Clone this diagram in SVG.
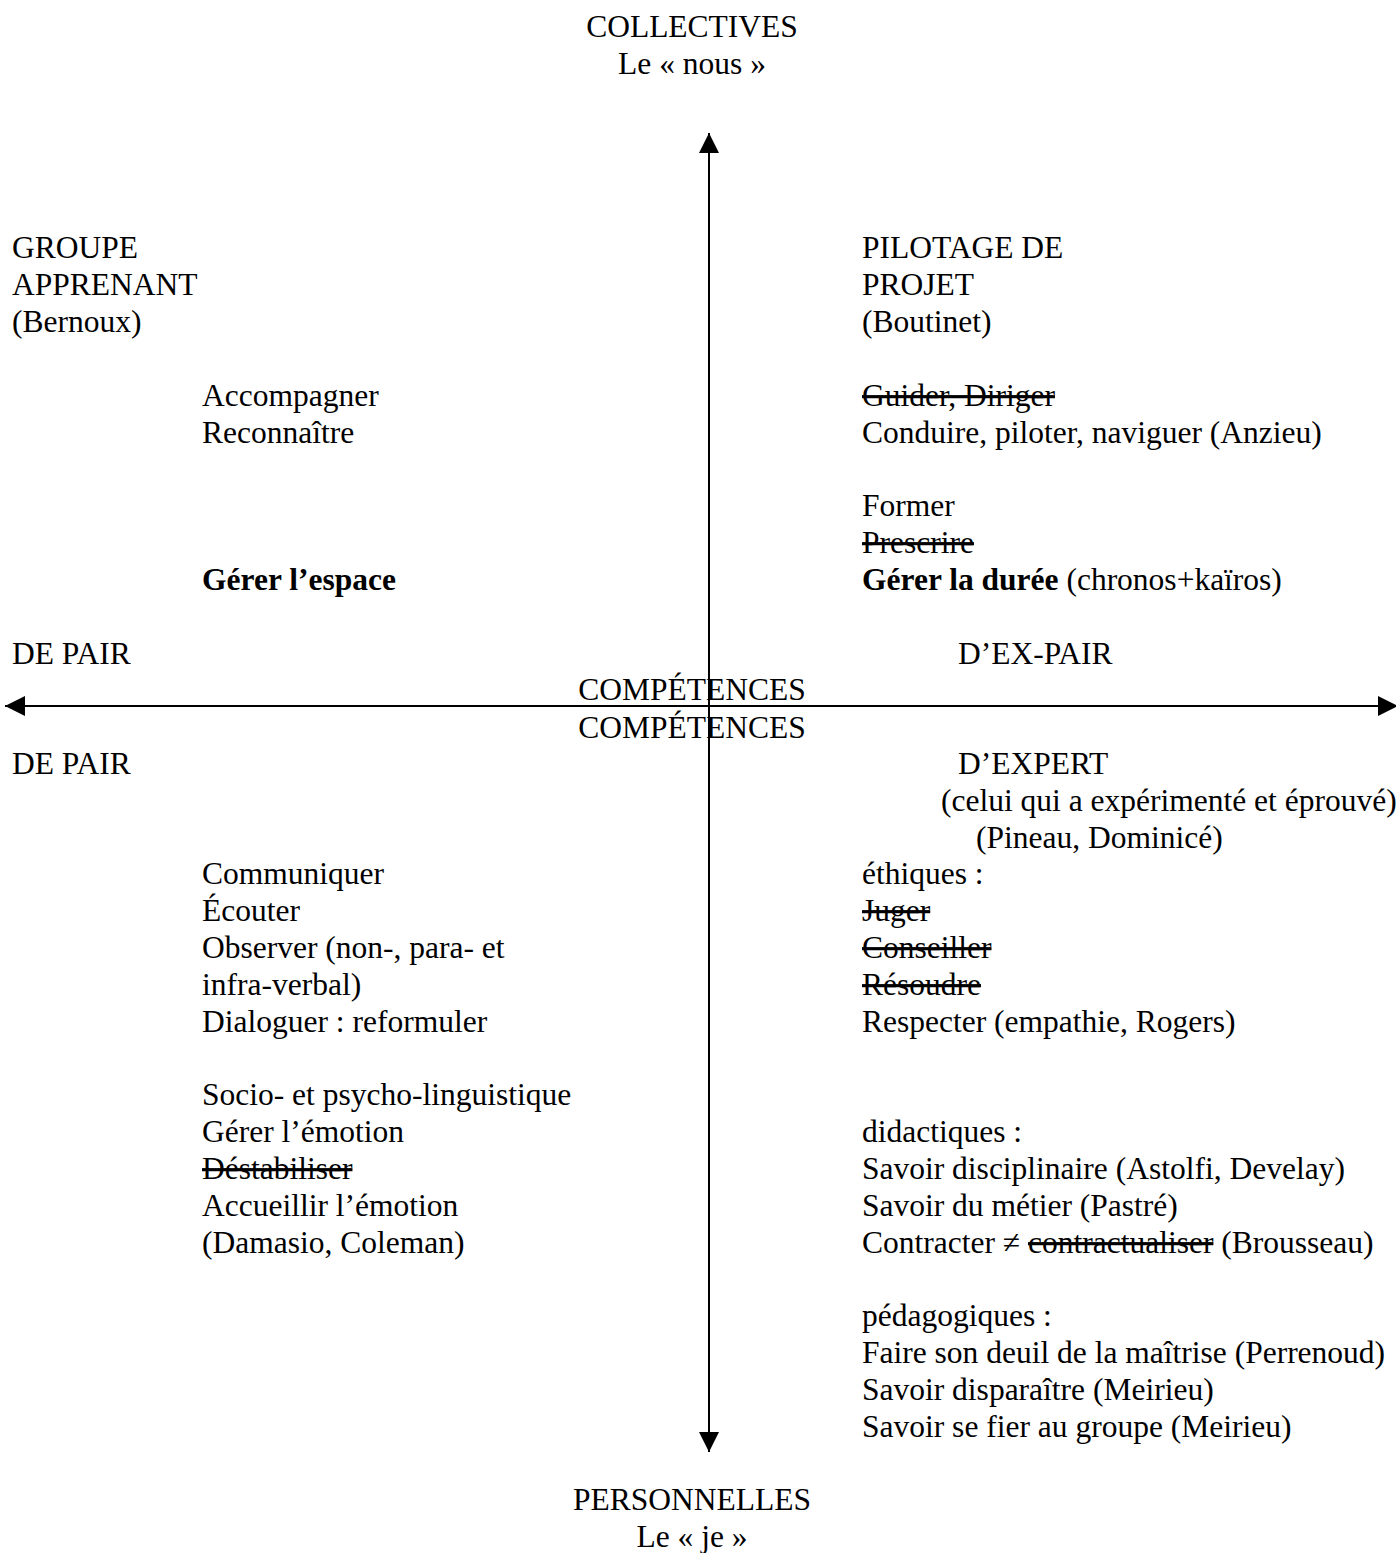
<svg xmlns="http://www.w3.org/2000/svg" width="1396" height="1553" viewBox="0 0 1396 1553">
<defs>
<style>
text{font-family:"Liberation Serif","Times New Roman",serif;font-size:31.5px;fill:#000}
.c{text-anchor:middle}
.b{font-weight:bold}
.s{text-decoration:line-through}
.ax{stroke:#000;fill:none}
</style>
<marker id="ah" viewBox="0 0 20 20" refX="20" refY="10" markerWidth="20" markerHeight="20" markerUnits="userSpaceOnUse" orient="auto">
<path d="M0,0 L20,10 L0,20 Z" fill="#000"/>
</marker>
</defs>
<rect width="1396" height="1553" fill="#fff"/>
<g id="connectors">
<line class="ax" x1="709" y1="1433" x2="709" y2="133" stroke-width="2" marker-end="url(#ah)"/>
<line class="ax" x1="709" y1="153" x2="709" y2="1452" stroke-width="2" marker-end="url(#ah)"/>
<line class="ax" x1="1380" y1="706" x2="5" y2="706" stroke-width="2" marker-end="url(#ah)"/>
<line class="ax" x1="20" y1="706" x2="1398" y2="706" stroke-width="2" marker-end="url(#ah)"/>
</g>
<g id="top">
<text class="c" x="692" y="37">COLLECTIVES</text>
<text class="c" x="692" y="74">Le « nous »</text>
</g>
<g id="bottom">
<text class="c" x="692" y="1510">PERSONNELLES</text>
<text class="c" x="692" y="1547">Le « je »</text>
</g>
<g id="center">
<text class="c" x="692" y="700">COMPÉTENCES</text>
<text class="c" x="692" y="738">COMPÉTENCES</text>
</g>
<g id="axis-labels">
<text x="12" y="664">DE PAIR</text>
<text x="958" y="664">D’EX-PAIR</text>
<text x="12" y="774">DE PAIR</text>
<text x="958" y="774">D’EXPERT</text>
</g>
<g id="q-top-left">
<text x="12" y="258">GROUPE</text>
<text x="12" y="295">APPRENANT</text>
<text x="12" y="332">(Bernoux)</text>
<text x="202" y="406">Accompagner</text>
<text x="202" y="443">Reconnaître</text>
<text x="202" y="590" class="b">Gérer l’espace</text>
</g>
<g id="q-top-right">
<text x="862" y="258">PILOTAGE DE</text>
<text x="862" y="295">PROJET</text>
<text x="862" y="332">(Boutinet)</text>
<text x="862" y="406" class="s">Guider, Diriger</text>
<text x="862" y="443">Conduire, piloter, naviguer (Anzieu)</text>
<text x="862" y="516">Former</text>
<text x="862" y="553" class="s">Prescrire</text>
<text x="862" y="590"><tspan class="b">Gérer la durée</tspan> (chronos+kaïros)</text>
</g>
<g id="q-bottom-left">
<text x="202" y="884">Communiquer</text>
<text x="202" y="921">Écouter</text>
<text x="202" y="958">Observer (non-, para- et</text>
<text x="202" y="995">infra-verbal)</text>
<text x="202" y="1032">Dialoguer : reformuler</text>
<text x="202" y="1105">Socio- et psycho-linguistique</text>
<text x="202" y="1142">Gérer l’émotion</text>
<text x="202" y="1179" class="s">Déstabiliser</text>
<text x="202" y="1216">Accueillir l’émotion</text>
<text x="202" y="1253">(Damasio, Coleman)</text>
</g>
<g id="q-bottom-right">
<text x="941" y="811">(celui qui a expérimenté et éprouvé)</text>
<text x="976" y="848">(Pineau, Dominicé)</text>
<text x="862" y="884">éthiques :</text>
<text x="862" y="921" class="s">Juger</text>
<text x="862" y="958" class="s">Conseiller</text>
<text x="862" y="995" class="s">Résoudre</text>
<text x="862" y="1032">Respecter (empathie, Rogers)</text>
<text x="862" y="1142">didactiques :</text>
<text x="862" y="1179">Savoir disciplinaire (Astolfi, Develay)</text>
<text x="862" y="1216">Savoir du métier (Pastré)</text>
<text x="862" y="1253">Contracter ≠ <tspan class="s">contractualiser</tspan> (Brousseau)</text>
<text x="862" y="1326">pédagogiques :</text>
<text x="862" y="1363">Faire son deuil de la maîtrise (Perrenoud)</text>
<text x="862" y="1400">Savoir disparaître (Meirieu)</text>
<text x="862" y="1437">Savoir se fier au groupe (Meirieu)</text>
</g>
</svg>
